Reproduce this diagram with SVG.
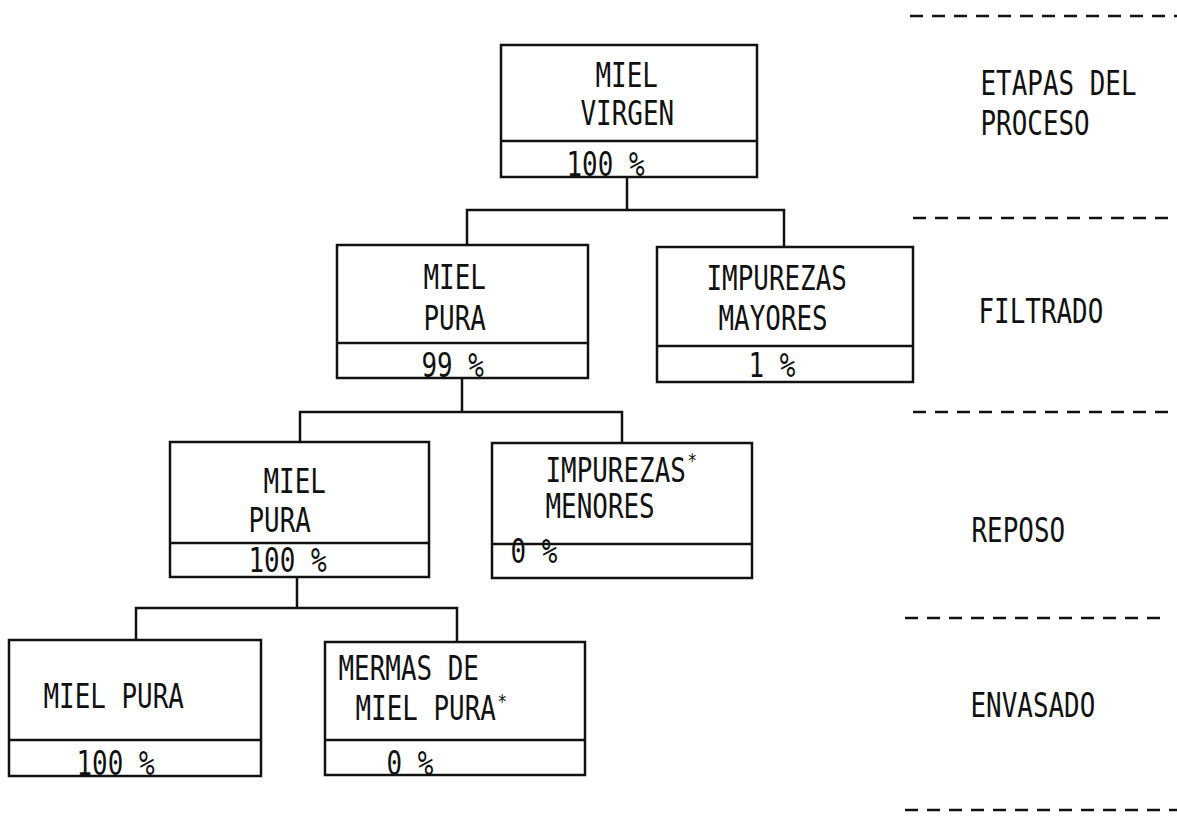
<svg xmlns="http://www.w3.org/2000/svg" width="1177" height="821" viewBox="0 0 1177 821">
<style>
.box{fill:none;stroke:#111;stroke-width:2.5}
.div{stroke:#111;stroke-width:2.5}
.con{fill:none;stroke:#111;stroke-width:2.5}
.dash{stroke:#111;stroke-width:2.5;stroke-dasharray:13 9}
.t{font-family:"DejaVu Sans Mono","Liberation Mono",monospace;font-size:33px;fill:#111}
.sup{font-size:20px}
</style>
<rect width="1177" height="821" fill="#fff"/>
<g id="connectors">
<path class="con" d="M627 177V210M467 245V210H784V247"/>
<path class="con" d="M462 378V412M300 442V412H622V443"/>
<path class="con" d="M297 577V608M136 640V608H457V642"/>
</g>
<g id="stage-lines">
<line class="dash" x1="910" y1="16" x2="1177" y2="16"/>
<line class="dash" x1="913" y1="218" x2="1177" y2="218"/>
<line class="dash" x1="913" y1="412" x2="1177" y2="412"/>
<line class="dash" x1="905" y1="618" x2="1167" y2="618"/>
<line class="dash" x1="905" y1="810" x2="1177" y2="810"/>
</g>
<g id="n1">
<rect class="box" x="501" y="45" width="256" height="132"/>
<line class="div" x1="501" y1="141" x2="757" y2="141"/>
<text class="t" x="595.5" y="87" textLength="62.4" lengthAdjust="spacingAndGlyphs">MIEL</text>
<text class="t" x="580.5" y="125" textLength="93.6" lengthAdjust="spacingAndGlyphs">VIRGEN</text>
<text class="t" x="566.5" y="176" textLength="78" lengthAdjust="spacingAndGlyphs">100 %</text>
</g>
<g id="n2">
<rect class="box" x="337" y="245" width="251" height="133"/>
<line class="div" x1="337" y1="343" x2="588" y2="343"/>
<text class="t" x="423.5" y="289" textLength="62.4" lengthAdjust="spacingAndGlyphs">MIEL</text>
<text class="t" x="423.5" y="330" textLength="62.4" lengthAdjust="spacingAndGlyphs">PURA</text>
<text class="t" x="421.5" y="377" textLength="62.4" lengthAdjust="spacingAndGlyphs">99 %</text>
</g>
<g id="n3">
<rect class="box" x="657" y="247" width="256" height="135"/>
<line class="div" x1="657" y1="346" x2="913" y2="346"/>
<text class="t" x="706.5" y="290" textLength="140.4" lengthAdjust="spacingAndGlyphs">IMPUREZAS</text>
<text class="t" x="718.5" y="330" textLength="109.2" lengthAdjust="spacingAndGlyphs">MAYORES</text>
<text class="t" x="748.5" y="377" textLength="46.8" lengthAdjust="spacingAndGlyphs">1 %</text>
</g>
<g id="n4">
<rect class="box" x="170" y="442" width="259" height="135"/>
<line class="div" x1="170" y1="543" x2="429" y2="543"/>
<text class="t" x="263.5" y="493" textLength="62.4" lengthAdjust="spacingAndGlyphs">MIEL</text>
<text class="t" x="248.5" y="532" textLength="62.4" lengthAdjust="spacingAndGlyphs">PURA</text>
<text class="t" x="248.5" y="572" textLength="78" lengthAdjust="spacingAndGlyphs">100 %</text>
</g>
<g id="n5">
<rect class="box" x="492" y="443" width="260" height="135"/>
<line class="div" x1="492" y1="544" x2="752" y2="544"/>
<text class="t" transform="translate(545.5 482) scale(0.785 1)" x="0" y="0">IMPUREZAS<tspan class="sup" dx="2" dy="-15">*</tspan></text>
<text class="t" x="545.5" y="518" textLength="109.2" lengthAdjust="spacingAndGlyphs">MENORES</text>
<text class="t" x="510.5" y="563" textLength="46.8" lengthAdjust="spacingAndGlyphs">0 %</text>
</g>
<g id="n6">
<rect class="box" x="9" y="640" width="252" height="136"/>
<line class="div" x1="9" y1="740" x2="261" y2="740"/>
<text class="t" x="43.5" y="708" textLength="140.4" lengthAdjust="spacingAndGlyphs">MIEL PURA</text>
<text class="t" x="76.5" y="775" textLength="78" lengthAdjust="spacingAndGlyphs">100 %</text>
</g>
<g id="n7">
<rect class="box" x="325" y="642" width="260" height="133"/>
<line class="div" x1="325" y1="740" x2="585" y2="740"/>
<text class="t" x="338.5" y="680" textLength="140.4" lengthAdjust="spacingAndGlyphs">MERMAS DE</text>
<text class="t" transform="translate(355.5 720) scale(0.785 1)" x="0" y="0">MIEL PURA<tspan class="sup" dx="2" dy="-12">*</tspan></text>
<text class="t" x="386.5" y="775" textLength="46.8" lengthAdjust="spacingAndGlyphs">0 %</text>
</g>
<g id="labels">
<text class="t" x="980.5" y="95" textLength="156" lengthAdjust="spacingAndGlyphs">ETAPAS DEL</text>
<text class="t" x="980.5" y="135" textLength="109.2" lengthAdjust="spacingAndGlyphs">PROCESO</text>
<text class="t" x="978.5" y="323" textLength="124.8" lengthAdjust="spacingAndGlyphs">FILTRADO</text>
<text class="t" x="971.5" y="542" textLength="93.6" lengthAdjust="spacingAndGlyphs">REPOSO</text>
<text class="t" x="970.5" y="717" textLength="124.8" lengthAdjust="spacingAndGlyphs">ENVASADO</text>
</g>
</svg>
